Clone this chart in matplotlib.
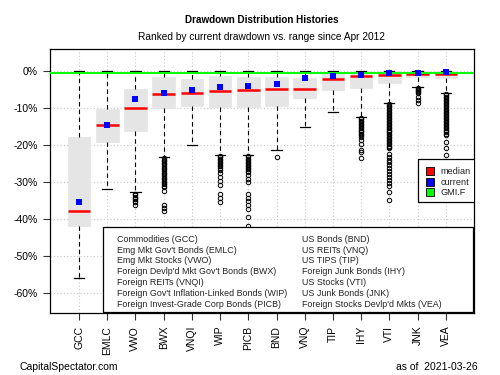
import matplotlib
matplotlib.use("Agg")
import matplotlib.pyplot as plt
from matplotlib.patches import Rectangle

plt.rcParams['font.family'] = ['Liberation Sans', 'DejaVu Sans']

tickers = ['GCC', 'EMLC', 'VWO', 'BWX', 'VNQI', 'WIP', 'PICB', 'BND', 'VNQ', 'TIP', 'IHY', 'VTI', 'JNK', 'VEA']
q3 = [-18.0, -10.4, -5.0, -1.7, -2.3, -1.5, -1.7, -1.7, -1.9, -0.5, 0.0, 0.0, 0.0, 0.0]
q1 = [-42.0, -19.2, -16.3, -10.2, -9.5, -9.9, -9.9, -9.5, -7.5, -5.3, -4.8, -3.3, -1.8, -2.1]
medians = [-37.9, -14.6, -10.2, -6.4, -5.9, -5.6, -5.2, -5.0, -5.0, -2.3, -1.5, -1.2, -0.8, -0.8]
current = [-35.6, -14.6, -7.6, -5.9, -5.1, -4.4, -4.1, -3.6, -2.1, -1.4, -1.2, -0.5, -0.5, -0.3]
whis_hi = [0.0] * 14
whis_lo = [-55.9, -31.9, -32.9, -23.3, -20.0, -22.7, -22.8, -21.3, -15.2, -11.1, -12.4, -8.8, -4.4, -6.1]
gmif = -0.7

fliers_gcc = []
fliers_emlc = []
fliers_vwo = [-33.2, -33.6, -34.0, -34.4, -34.8, -35.2, -35.5, -36.3]
fliers_bwx = [-23.5, -24.0, -24.4, -24.9, -25.3, -25.8, -26.2, -26.7, -27.1, -27.6, -28.0, -28.5,
              -28.9, -29.4, -29.8, -30.3, -30.7, -31.1, -31.4, -32.6, -36.3, -37.0, -37.8]
fliers_vnqi = []
fliers_wip = [-23.0, -23.4, -23.8, -24.2, -24.6, -25.0, -25.4, -25.8, -26.2, -26.8, -27.7, -28.7,
              -29.7, -30.8, -33.4, -34.5, -35.6]
fliers_picb = [-23.0, -23.4, -23.8, -24.2, -24.6, -25.0, -25.4, -25.8, -26.2, -26.6, -27.0, -27.5,
               -28.3, -29.2, -30.1, -33.3, -34.3, -35.2, -36.3, -37.3, -39.5, -42.0]
fliers_bnd = [-23.3]
fliers_vnq = []
fliers_tip = []
fliers_ihy = [-12.7, -13.1, -13.5, -13.9, -14.3, -14.7, -15.1, -15.5, -15.9, -16.3, -16.7, -17.1,
              -17.5, -17.9, -18.8, -19.7, -21.5, -22.1, -23.7]
fliers_vti = [-9.1, -9.5, -9.9, -10.3, -10.7, -11.1, -11.5, -11.9, -12.3, -12.7, -13.1, -13.5,
              -13.9, -14.3, -14.7, -15.1, -15.5, -15.9, -16.3, -16.7, -17.1, -17.5, -17.9, -18.3,
              -18.7, -19.1, -19.5, -19.9, -20.3, -20.7, -21.0, -22.4, -23.2, -24.0, -24.8, -25.6,
              -26.4, -27.2, -28.0, -28.8, -29.6, -30.4, -31.2, -32.7, -35.0]
fliers_jnk = [-4.6, -4.9, -5.2, -5.5, -5.8, -6.1, -7.1, -8.0, -8.7]
fliers_vea = [-6.3, -6.7, -7.1, -7.5, -7.9, -8.3, -8.7, -9.1, -9.5, -9.9, -10.3, -10.7, -11.1,
              -11.5, -11.9, -12.3, -12.7, -13.1, -13.5, -13.9, -14.3, -14.7, -15.1, -15.5, -15.9,
              -16.3, -16.7, -17.1, -17.4, -19.4, -21.0, -22.8]
fliers = [fliers_gcc, fliers_emlc, fliers_vwo, fliers_bwx, fliers_vnqi, fliers_wip, fliers_picb,
          fliers_bnd, fliers_vnq, fliers_tip, fliers_ihy, fliers_vti, fliers_jnk, fliers_vea]

legend_left = ["Commodities (GCC)", "Emg Mkt Gov't Bonds (EMLC)", "Emg Mkt Stocks (VWO)",
               "Foreign Devlp'd Mkt Gov't Bonds (BWX)", "Foreign REITs (VNQI)",
               "Foreign Gov't Inflation-Linked Bonds (WIP)", "Foreign Invest-Grade Corp Bonds (PICB)"]
legend_right = ["US Bonds (BND)", "US REITs (VNQ)", "US TIPS (TIP)", "Foreign Junk Bonds (IHY)",
                "US Stocks (VTI)", "US Junk Bonds (JNK)", "Foreign Stocks Devlp'd Mkts (VEA)"]
yticks = [0, -10, -20, -30, -40, -50, -60]

fig = plt.figure(figsize=(5, 3.75), dpi=100)
ax = fig.add_axes([0.099, 0.1645, 0.849, 0.704])
positions = list(range(1, len(tickers) + 1))

ax.set_xlim(-0.046, 15.0)
ax.set_ylim(-65.57, 5.78)

# grid
for p in positions:
    ax.axvline(p, color='#c8c8c8', linestyle=(0, (1, 2)), linewidth=0.8, zorder=0)
for t in yticks:
    ax.axhline(t, color='#c8c8c8', linestyle=(0, (1, 2)), linewidth=0.8, zorder=0)

stats = []
for i in range(len(tickers)):
    stats.append(dict(med=medians[i], q1=q1[i], q3=q3[i], whislo=whis_lo[i], whishi=whis_hi[i],
                      fliers=fliers[i], label=tickers[i]))

ax.bxp(stats, positions=positions, widths=0.8, capwidths=0.36, patch_artist=True,
       showfliers=True,
       boxprops=dict(facecolor='#e5e5e5', edgecolor='#e5e5e5', linewidth=0.5),
       medianprops=dict(color='#ff0000', linewidth=1.8, solid_capstyle='butt'),
       whiskerprops=dict(color='black', linestyle=(0, (4, 3)), linewidth=0.8),
       capprops=dict(color='black', linewidth=0.9),
       flierprops=dict(marker='o', markerfacecolor='none', markeredgecolor='black',
                       markersize=3.2, markeredgewidth=0.7),
       manage_ticks=False, zorder=2)

ax.axhline(gmif, color='#00ff00', linewidth=1.4, zorder=3)
ax.scatter(positions, current, marker='s', s=18, color='#0000ff', zorder=4, linewidths=0)

ax.set_xticks(positions)
ax.set_xticklabels(tickers, rotation=90, fontsize=7.5)
ax.set_yticks(yticks)
ax.set_yticklabels([f"{t}%" for t in yticks], fontsize=7.5)
ax.tick_params(axis='both', length=5, width=0.8, color='#333333')
ax.tick_params(axis='x', pad=4)
for s in ax.spines.values():
    s.set_linewidth(0.9)

# small legend (median/current/GMI.F)
ax.add_patch(Rectangle((0.8688, 0.4227), 0.2, 0.1618, transform=ax.transAxes, facecolor='white',
                       edgecolor='black', linewidth=0.9, zorder=6, clip_on=True))
leg_items = [('median', '#ff0000'), ('current', '#0000ff'), ('GMI.F', '#00ff00')]
leg_y = [0.539, 0.4966, 0.4595]
for (lab, col), yy in zip(leg_items, leg_y):
    ax.scatter([0.896], [yy], marker='s', s=28, color=col, edgecolors='black', linewidths=0.6,
               transform=ax.transAxes, zorder=7, clip_on=True)
    ax.text(0.9216, yy, lab, transform=ax.transAxes, fontsize=6.6, va='center', ha='left',
            zorder=7, clip_on=True, color='#222222')

# ticker description box
ax.add_patch(Rectangle((0.1253, 0.006), 0.8723, 0.322, transform=ax.transAxes, facecolor='white',
                       edgecolor='black', linewidth=0.9, zorder=6))
for k, (l, r) in enumerate(zip(legend_left, legend_right)):
    yy = 0.2803 - k * 0.0409
    ax.text(0.1597, yy, l, transform=ax.transAxes, fontsize=6.4, va='center', ha='left', zorder=7,
            color='#222222')
    ax.text(0.594, yy, r, transform=ax.transAxes, fontsize=6.4, va='center', ha='left', zorder=7,
            color='#222222')

fig.text(0.5236, 1 - 20 / 375, "Drawdown Distribution Histories", ha='center', va='center',
         fontsize=7.1, fontweight='bold')
fig.text(0.5236, 1 - 36.7 / 375, "Ranked by current drawdown vs. range since Apr 2012",
         ha='center', va='center', fontsize=7.3)
fig.text(20 / 500, 1 - 366.7 / 375, "CapitalSpectator.com", ha='left', va='center', fontsize=7.5)
fig.text(477.3 / 500, 1 - 366.7 / 375, "as of  2021-03-26", ha='right', va='center', fontsize=7.5)

fig.savefig("out.png", dpi=100)
